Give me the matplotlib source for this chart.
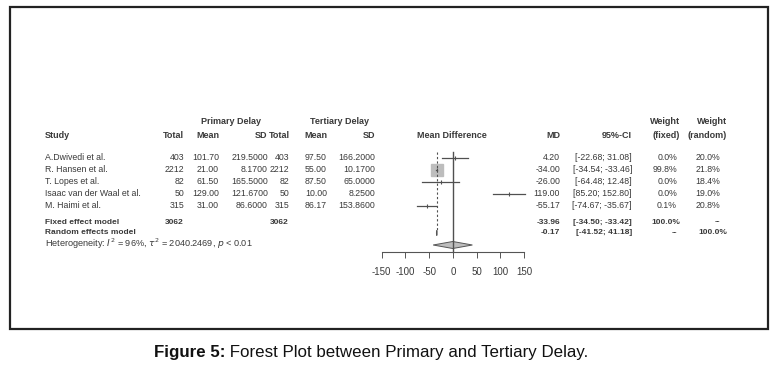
import numpy as np
import matplotlib.pyplot as plt
from matplotlib.patches import Polygon, Rectangle

plt.rcParams['font.family'] = ['Liberation Sans', 'DejaVu Sans']

# study data
studies = ["A.Dwivedi et al.", "R. Hansen et al.", "T. Lopes et al.",
           "Isaac van der Waal et al.", "M. Haimi et al."]
n_prim = [403, 2212, 82, 50, 315]
mean_prim = [101.70, 21.00, 61.50, 129.00, 31.00]
sd_prim = [219.5000, 8.1700, 165.5000, 121.6700, 86.6000]
n_tert = [403, 2212, 82, 50, 315]
mean_tert = [97.50, 55.00, 87.50, 10.00, 86.17]
sd_tert = [166.2000, 10.1700, 65.0000, 8.2500, 153.8600]
md = [4.20, -34.00, -26.00, 119.00, -55.17]
ci_lo = [-22.68, -34.54, -64.48, 85.20, -74.67]
ci_hi = [31.08, -33.46, 12.48, 152.80, -35.67]
w_fixed = [0.0, 99.8, 0.0, 0.0, 0.1]
w_random = [20.0, 21.8, 18.4, 19.0, 20.8]

fixed_est, fixed_lo, fixed_hi = -33.96, -34.50, -33.42
random_est, random_lo, random_hi = -0.17, -41.52, 41.18
total_prim, total_tert = 3062, 3062
ticks = [-150, -100, -50, 0, 50, 100, 150]

W, H = 784, 375
fig = plt.figure(figsize=(W / 100, H / 100), dpi=100)
bg = fig.add_axes([0, 0, 1, 1])
bg.set_xlim(0, W)
bg.set_ylim(H, 0)
bg.axis('off')

# frame around the plot
bg.add_patch(Rectangle((10, 7), 758, 322, fill=False, lw=1.6, ec='#222222'))

txt = '#3a3a3a'
fs = 6.3       # normal rows
fs_b = 6.0     # bold summary rows
fs_h = 6.5     # column headers
row_y = [158, 170, 182, 194, 206]
y_fixed, y_random, y_het = 222, 233, 244


def t(x, y, s, ha='right', bold=False, size=fs):
    bg.text(x, y, s, ha=ha, va='center', fontsize=size, color=txt,
            fontweight='bold' if bold else 'normal')


def h(x, y, s, ha='right'):
    t(x, y, s, ha=ha, bold=True, size=fs_h)


# headers
h(231, 122, "Primary Delay", ha='center')
h(340, 122, "Tertiary Delay", ha='center')
h(680, 122, "Weight")
h(727, 122, "Weight")
h(45, 136, "Study", ha='left')
for x, s in [(184, "Total"), (219, "Mean"), (267, "SD"), (290, "Total"),
             (327, "Mean"), (375, "SD"), (560, "MD"), (632, "95%-CI"),
             (680, "(fixed)"), (727, "(random)")]:
    h(x, 136, s)
h(452, 136, "Mean Difference", ha='center')

for i, y in enumerate(row_y):
    t(45, y, studies[i], ha='left')
    t(184, y, f"{n_prim[i]}")
    t(219, y, f"{mean_prim[i]:.2f}")
    t(268, y, f"{sd_prim[i]:.4f}")
    t(289, y, f"{n_tert[i]}")
    t(327, y, f"{mean_tert[i]:.2f}")
    t(375, y, f"{sd_tert[i]:.4f}")
    t(560, y, f"{md[i]:.2f}")
    t(632, y, f"[{ci_lo[i]:.2f}; {ci_hi[i]:.2f}]")
    t(677, y, f"{w_fixed[i]:.1f}%")
    t(720, y, f"{w_random[i]:.1f}%")

t(45, y_fixed, "Fixed effect model", ha='left', bold=True, size=fs_b)
t(184, y_fixed, f"{total_prim}", bold=True, size=fs_b)
t(289, y_fixed, f"{total_tert}", bold=True, size=fs_b)
t(560, y_fixed, f"{fixed_est:.2f}", bold=True, size=fs_b)
t(632, y_fixed, f"[{fixed_lo:.2f}; {fixed_hi:.2f}]", bold=True, size=fs_b)
t(680, y_fixed, "100.0%", bold=True, size=fs_b)
t(720, y_fixed, "--", bold=True, size=fs_b)

t(45, y_random, "Random effects model", ha='left', bold=True, size=fs_b)
t(560, y_random, f"{random_est:.2f}", bold=True, size=fs_b)
t(632, y_random, f"[{random_lo:.2f}; {random_hi:.2f}]", bold=True, size=fs_b)
t(677, y_random, "--", bold=True, size=fs_b)
t(727, y_random, "100.0%", bold=True, size=fs_b)

bg.text(45, y_het, r"Heterogeneity: $I^2$ = 96%, $\tau^2$ = 2040.2469, $p$ < 0.01",
        ha='left', va='center', fontsize=6.6, color=txt)

# forest panel
x0, x1 = 381.7, 524.0
ytop, ybot = 145, 252
ax = fig.add_axes([x0 / W, 1 - ybot / H, (x1 - x0) / W, (ybot - ytop) / H])
ax.set_xlim(-150, 150)
ax.set_ylim(ybot, ytop)
ax.patch.set_alpha(0)
for side in ['top', 'right', 'left']:
    ax.spines[side].set_visible(False)
ax.spines['bottom'].set_color('#555555')
ax.spines['bottom'].set_linewidth(0.8)
ax.set_yticks([])
ax.set_xticks(ticks)
ax.set_xticklabels([str(v) for v in ticks])
ax.tick_params(axis='x', length=4, width=0.7, color='#555555', labelsize=7,
               labelcolor=txt, pad=7)

line_c = '#505050'
ax.plot([0, 0], [152, ybot], color=line_c, lw=1.0, clip_on=False)
ax.plot([fixed_est, fixed_est], [152, y_fixed + 10], color=line_c, lw=0.8,
        ls=(0, (2, 2)), clip_on=False)

wmax = max(w_fixed)
for i, y in enumerate(row_y):
    ax.plot([ci_lo[i], ci_hi[i]], [y, y], color=line_c, lw=0.9, clip_on=False)
    size = 9 * np.sqrt(w_fixed[i] / wmax)
    if size > 1:
        ax.plot(md[i], y, 's', ms=size, mfc='#bdbdbd', mec='#bdbdbd', zorder=1)
    ax.plot(md[i], y, '|', ms=3, color=line_c, mew=0.8)

yf, yr = y_fixed + 11, y_random + 12
ax.add_patch(Polygon([[fixed_lo, yf], [fixed_est, yf - 2.5], [fixed_hi, yf],
                      [fixed_est, yf + 2.5]], closed=True, fc='#555555',
                     ec='#555555', lw=0.8, clip_on=False))
ax.add_patch(Polygon([[random_lo, yr], [random_est, yr - 3.5], [random_hi, yr],
                      [random_est, yr + 3.5]], closed=True, fc='#bdbdbd',
                     ec='#555555', lw=0.7, clip_on=False))

# caption: bold label followed by regular text, centred as one line
cap_size = 12.2
lab = bg.text(0, 352, "Figure 5:", ha='left', va='center', fontsize=cap_size,
              fontweight='bold', color='#111111')
rest = bg.text(0, 352, " Forest Plot between Primary and Tertiary Delay.",
               ha='left', va='center', fontsize=cap_size, color='#111111')
fig.canvas.draw()
inv = bg.transData.inverted()
r = fig.canvas.get_renderer()
wl = inv.transform([[lab.get_window_extent(r).width, 0]])[0][0] - inv.transform([[0, 0]])[0][0]
wr = inv.transform([[rest.get_window_extent(r).width, 0]])[0][0] - inv.transform([[0, 0]])[0][0]
start = 371 - (wl + wr) / 2
lab.set_x(start)
rest.set_x(start + wl)

fig.savefig('out.png', dpi=100)
